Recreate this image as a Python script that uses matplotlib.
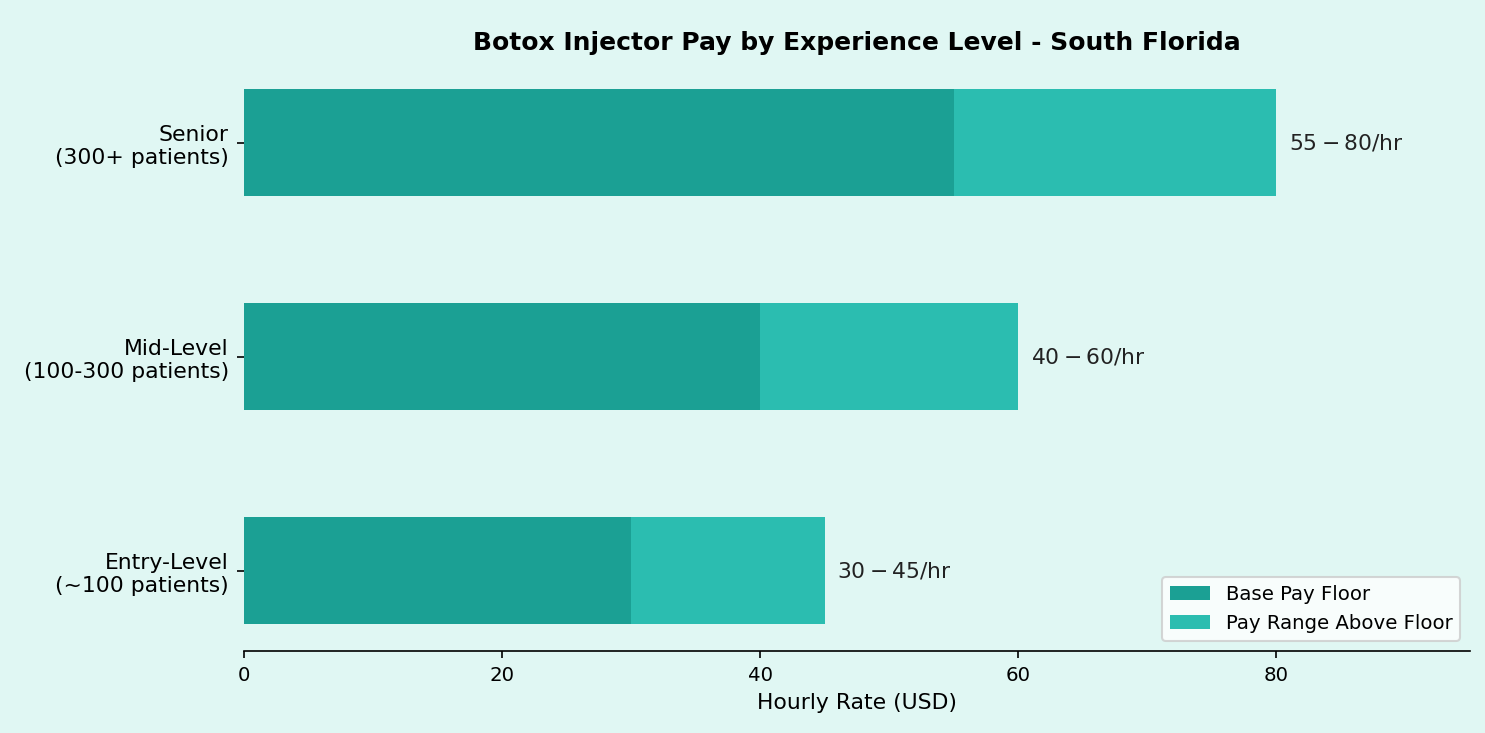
import matplotlib.pyplot as plt

levels = ['Entry-Level\n(~100 patients)', 'Mid-Level\n(100-300 patients)', 'Senior\n(300+ patients)']
floor = [30, 40, 55]
top = [45, 60, 80]
labels = ['$30-$45/hr', '$40-$60/hr', '$55-$80/hr']

bg = '#e0f7f3'
fig, ax = plt.subplots(figsize=(9.9, 4.887), dpi=150)
fig.patch.set_facecolor(bg)
ax.set_facecolor(bg)

above = [t - f for t, f in zip(top, floor)]
ax.barh(levels, floor, height=0.5, color='#1ba094', label='Base Pay Floor')
ax.barh(levels, above, left=floor, height=0.5, color='#2bbdb0', label='Pay Range Above Floor')
for i, (t, lab) in enumerate(zip(top, labels)):
    ax.text(t + 1, i, lab, va='center', fontsize=10.5, color='#222222')

ax.set_xlim(0, 95)
ax.set_xticks([0, 20, 40, 60, 80])
ax.set_xlabel('Hourly Rate (USD)', fontsize=10.5)
ax.set_title('Botox Injector Pay by Experience Level - South Florida', fontsize=12, fontweight='bold')
for s in ['top', 'right', 'left']:
    ax.spines[s].set_visible(False)
ax.tick_params(axis='y', labelsize=10.5)
ax.tick_params(axis='x', labelsize=9.5)
ax.legend(loc='lower right', fontsize=9.5)
plt.subplots_adjust(left=0.164, right=0.99, top=0.915, bottom=0.112)
plt.savefig('out.png', facecolor=bg)
